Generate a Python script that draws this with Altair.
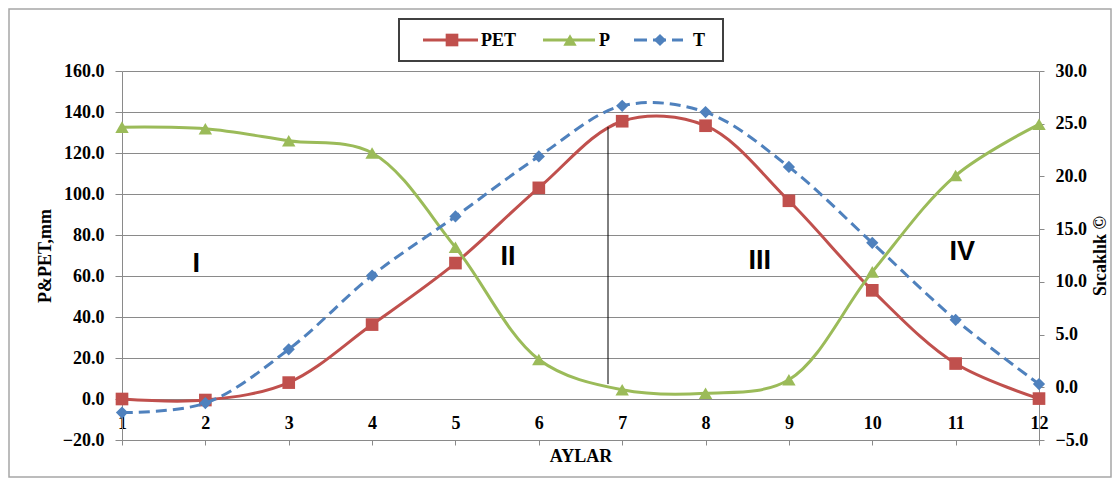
import altair as alt
import pandas as pd

# ---- data ----
months = list(range(1, 13))
pet = [0.0, -0.5, 8.0, 36.3, 66.3, 103.0, 135.5, 133.3, 96.7, 53.0, 17.3, 0.2]
p = [132.6, 131.8, 126.0, 120.0, 74.0, 19.3, 4.5, 2.8, 9.4, 62.0, 109.0, 134.0]
t = [-2.4, -1.5, 3.6, 10.6, 16.2, 21.9, 26.7, 26.1, 20.9, 13.7, 6.4, 0.3]

series_names = ["PET", "P", "T"]
series_colors = ["#C0504D", "#9BBB59", "#4F81BD"]
series_shapes = ["square", "triangle-up", "diamond"]

zone_labels = ["I", "II", "III", "IV"]
zone_month = [1.89, 5.63, 8.65, 11.08]
zone_value = [65.9, 69.3, 67.3, 71.7]

divider_month = [6.83]
divider_low = [7.3]
divider_high = [132.7]

left_ticks = [-20, 0, 20, 40, 60, 80, 100, 120, 140, 160]
right_ticks = [-5, 0, 5, 10, 15, 20, 25, 30]

# ---- tables ----
left_df = pd.DataFrame({"ay": months * 2, "deger": pet + p,
                        "seri": ["PET"] * 12 + ["P"] * 12})
t_df = pd.DataFrame({"ay": months, "sicaklik": t, "seri": ["T"] * 12})
zone_df = pd.DataFrame({"ay": zone_month, "deger": zone_value, "etiket": zone_labels})
rule_df = pd.DataFrame({"ay": divider_month, "alt_d": divider_low, "ust_d": divider_high})

SERIF = "Liberation Serif"
GRID = "#8a8a8a"

x_enc = alt.X("ay:Q",
              scale=alt.Scale(domain=[1, 12], nice=False, zero=False),
              axis=alt.Axis(values=months, format="d", title="AYLAR", grid=False,
                            tickSize=5, tickColor=GRID, domainColor=GRID,
                            labelPadding=-22, labelBaseline="middle", labelFlush=False,
                            labelFont=SERIF, labelFontWeight="bold", labelFontSize=18,
                            labelColor="black",
                            titleFont=SERIF, titleFontWeight="bold", titleFontSize=18,
                            titleColor="black", titleY=16, titleBaseline="middle"))

left_scale = alt.Scale(domain=[-20, 160], nice=False, zero=False)
left_axis = alt.Axis(values=left_ticks, format=".1f", title="P&PET,mm", orient="left",
                     grid=True, gridColor=GRID, gridWidth=1,
                     tickSize=7, tickColor=GRID, domainColor=GRID,
                     labelPadding=11, labelFlush=False,
                     labelFont=SERIF, labelFontWeight="bold", labelFontSize=18,
                     labelColor="black",
                     titleFont=SERIF, titleFontWeight="bold", titleFontSize=18,
                     titleColor="black", titleAngle=270, titleX=-77, titleY=184.5,
                     titleAlign="center", titleBaseline="middle")


def y_left(field):
    return alt.Y(field, type="quantitative", scale=left_scale, axis=left_axis)


right_scale = alt.Scale(domain=[-5, 30], nice=False, zero=False)
right_axis = alt.Axis(values=right_ticks, format=".1f", title="Sıcaklık ©", orient="right",
                      grid=False, tickSize=5, tickColor=GRID, domainColor=GRID,
                      labelPadding=11, labelFlush=False,
                      labelFont=SERIF, labelFontWeight="bold", labelFontSize=18,
                      labelColor="black",
                      titleFont=SERIF, titleFontWeight="bold", titleFontSize=18,
                      titleColor="black", titleAngle=270, titleX=61, titleY=184.5,
                      titleAlign="center", titleBaseline="middle")

line_color = alt.Color("seri:N", scale=alt.Scale(domain=series_names, range=series_colors),
                       legend=None)

left_lines = alt.Chart(left_df).mark_line(strokeWidth=3, interpolate="catmull-rom").encode(
    x=x_enc, y=y_left("deger"), color=line_color, detail="seri:N")

pet_pts = alt.Chart(left_df).transform_filter(alt.datum.seri == "PET").mark_point(
    shape=series_shapes[0], filled=True, size=160, opacity=1, color=series_colors[0]).encode(
    x=x_enc, y=y_left("deger"))

p_pts = alt.Chart(left_df).transform_filter(alt.datum.seri == "P").mark_point(
    shape=series_shapes[1], filled=True, size=180, opacity=1, color=series_colors[1]).encode(
    x=x_enc, y=y_left("deger"))

divider = alt.Chart(rule_df).mark_rule(color="black", strokeWidth=1).encode(
    x=x_enc, y=y_left("alt_d"), y2="ust_d:Q")

zones = alt.Chart(zone_df).mark_text(font="Liberation Sans", fontWeight="bold", fontSize=27,
                                     color="black", align="center", baseline="middle").encode(
    x=x_enc, y=y_left("deger"), text="etiket:N")

# ---- chart frame and legend box (decoration, pixel offsets from plot origin) ----
one = pd.DataFrame({"k": [0]})
frame = alt.Chart(one).mark_rect(fill="transparent", stroke="#a6a6a6", strokeWidth=1.5).encode(
    x=alt.value(-113), x2=alt.value(989), y=alt.value(-62), y2=alt.value(406))

legend_box = alt.Chart(one).mark_rect(fill="white", stroke="#404040", strokeWidth=2).encode(
    x=alt.value(277), x2=alt.value(601), y=alt.value(-52), y2=alt.value(-10))

legend_line_start = [301, 421, 512]
legend_line_end = [356, 473, 561]
legend_marker_x = [330, 448, 538]
legend_text_x = [359, 477, 571]
legend_dash = [[1, 0], [1, 0], [13, 6]]
legend_sizes = [160, 180, 150]
LEG_Y = -31

legend_parts = [legend_box]
for i, name in enumerate(series_names):
    legend_parts.append(
        alt.Chart(one).mark_rule(color=series_colors[i], strokeWidth=3,
                                 strokeDash=legend_dash[i]).encode(
            x=alt.value(legend_line_start[i]), x2=alt.value(legend_line_end[i]),
            y=alt.value(LEG_Y)))
    legend_parts.append(
        alt.Chart(one).mark_point(shape=series_shapes[i], filled=True, opacity=1,
                                  size=legend_sizes[i], color=series_colors[i]).encode(
            x=alt.value(legend_marker_x[i]), y=alt.value(LEG_Y)))
    legend_parts.append(
        alt.Chart(one).mark_text(font=SERIF, fontWeight="bold", fontSize=18, color="black",
                                 align="left", baseline="middle", dy=1).encode(
            x=alt.value(legend_text_x[i]), y=alt.value(LEG_Y), text=alt.value(name)))

left_layer = alt.layer(frame, left_lines, divider, pet_pts, p_pts, zones)

t_line = alt.Chart(t_df).mark_line(strokeWidth=3, interpolate="catmull-rom",
                                   color=series_colors[2], strokeDash=[11, 6]).encode(
    x=x_enc, y=alt.Y("sicaklik:Q", scale=right_scale, axis=right_axis))
t_pts = alt.Chart(t_df).mark_point(shape=series_shapes[2], filled=True, size=150, opacity=1,
                                   color=series_colors[2]).encode(
    x=x_enc, y=alt.Y("sicaklik:Q", scale=right_scale, axis=right_axis))
right_layer = alt.layer(t_line, t_pts, *legend_parts)

chart = alt.layer(left_layer, right_layer).resolve_scale(y="independent").properties(
    width=917, height=369,
    autosize=alt.AutoSizeParams(type="none"),
    padding={"left": 114, "top": 63, "right": 73, "bottom": 38},
    background="white",
).configure_view(stroke=None)

chart.save("out.html", embed_options={"renderer": "svg", "actions": False})
